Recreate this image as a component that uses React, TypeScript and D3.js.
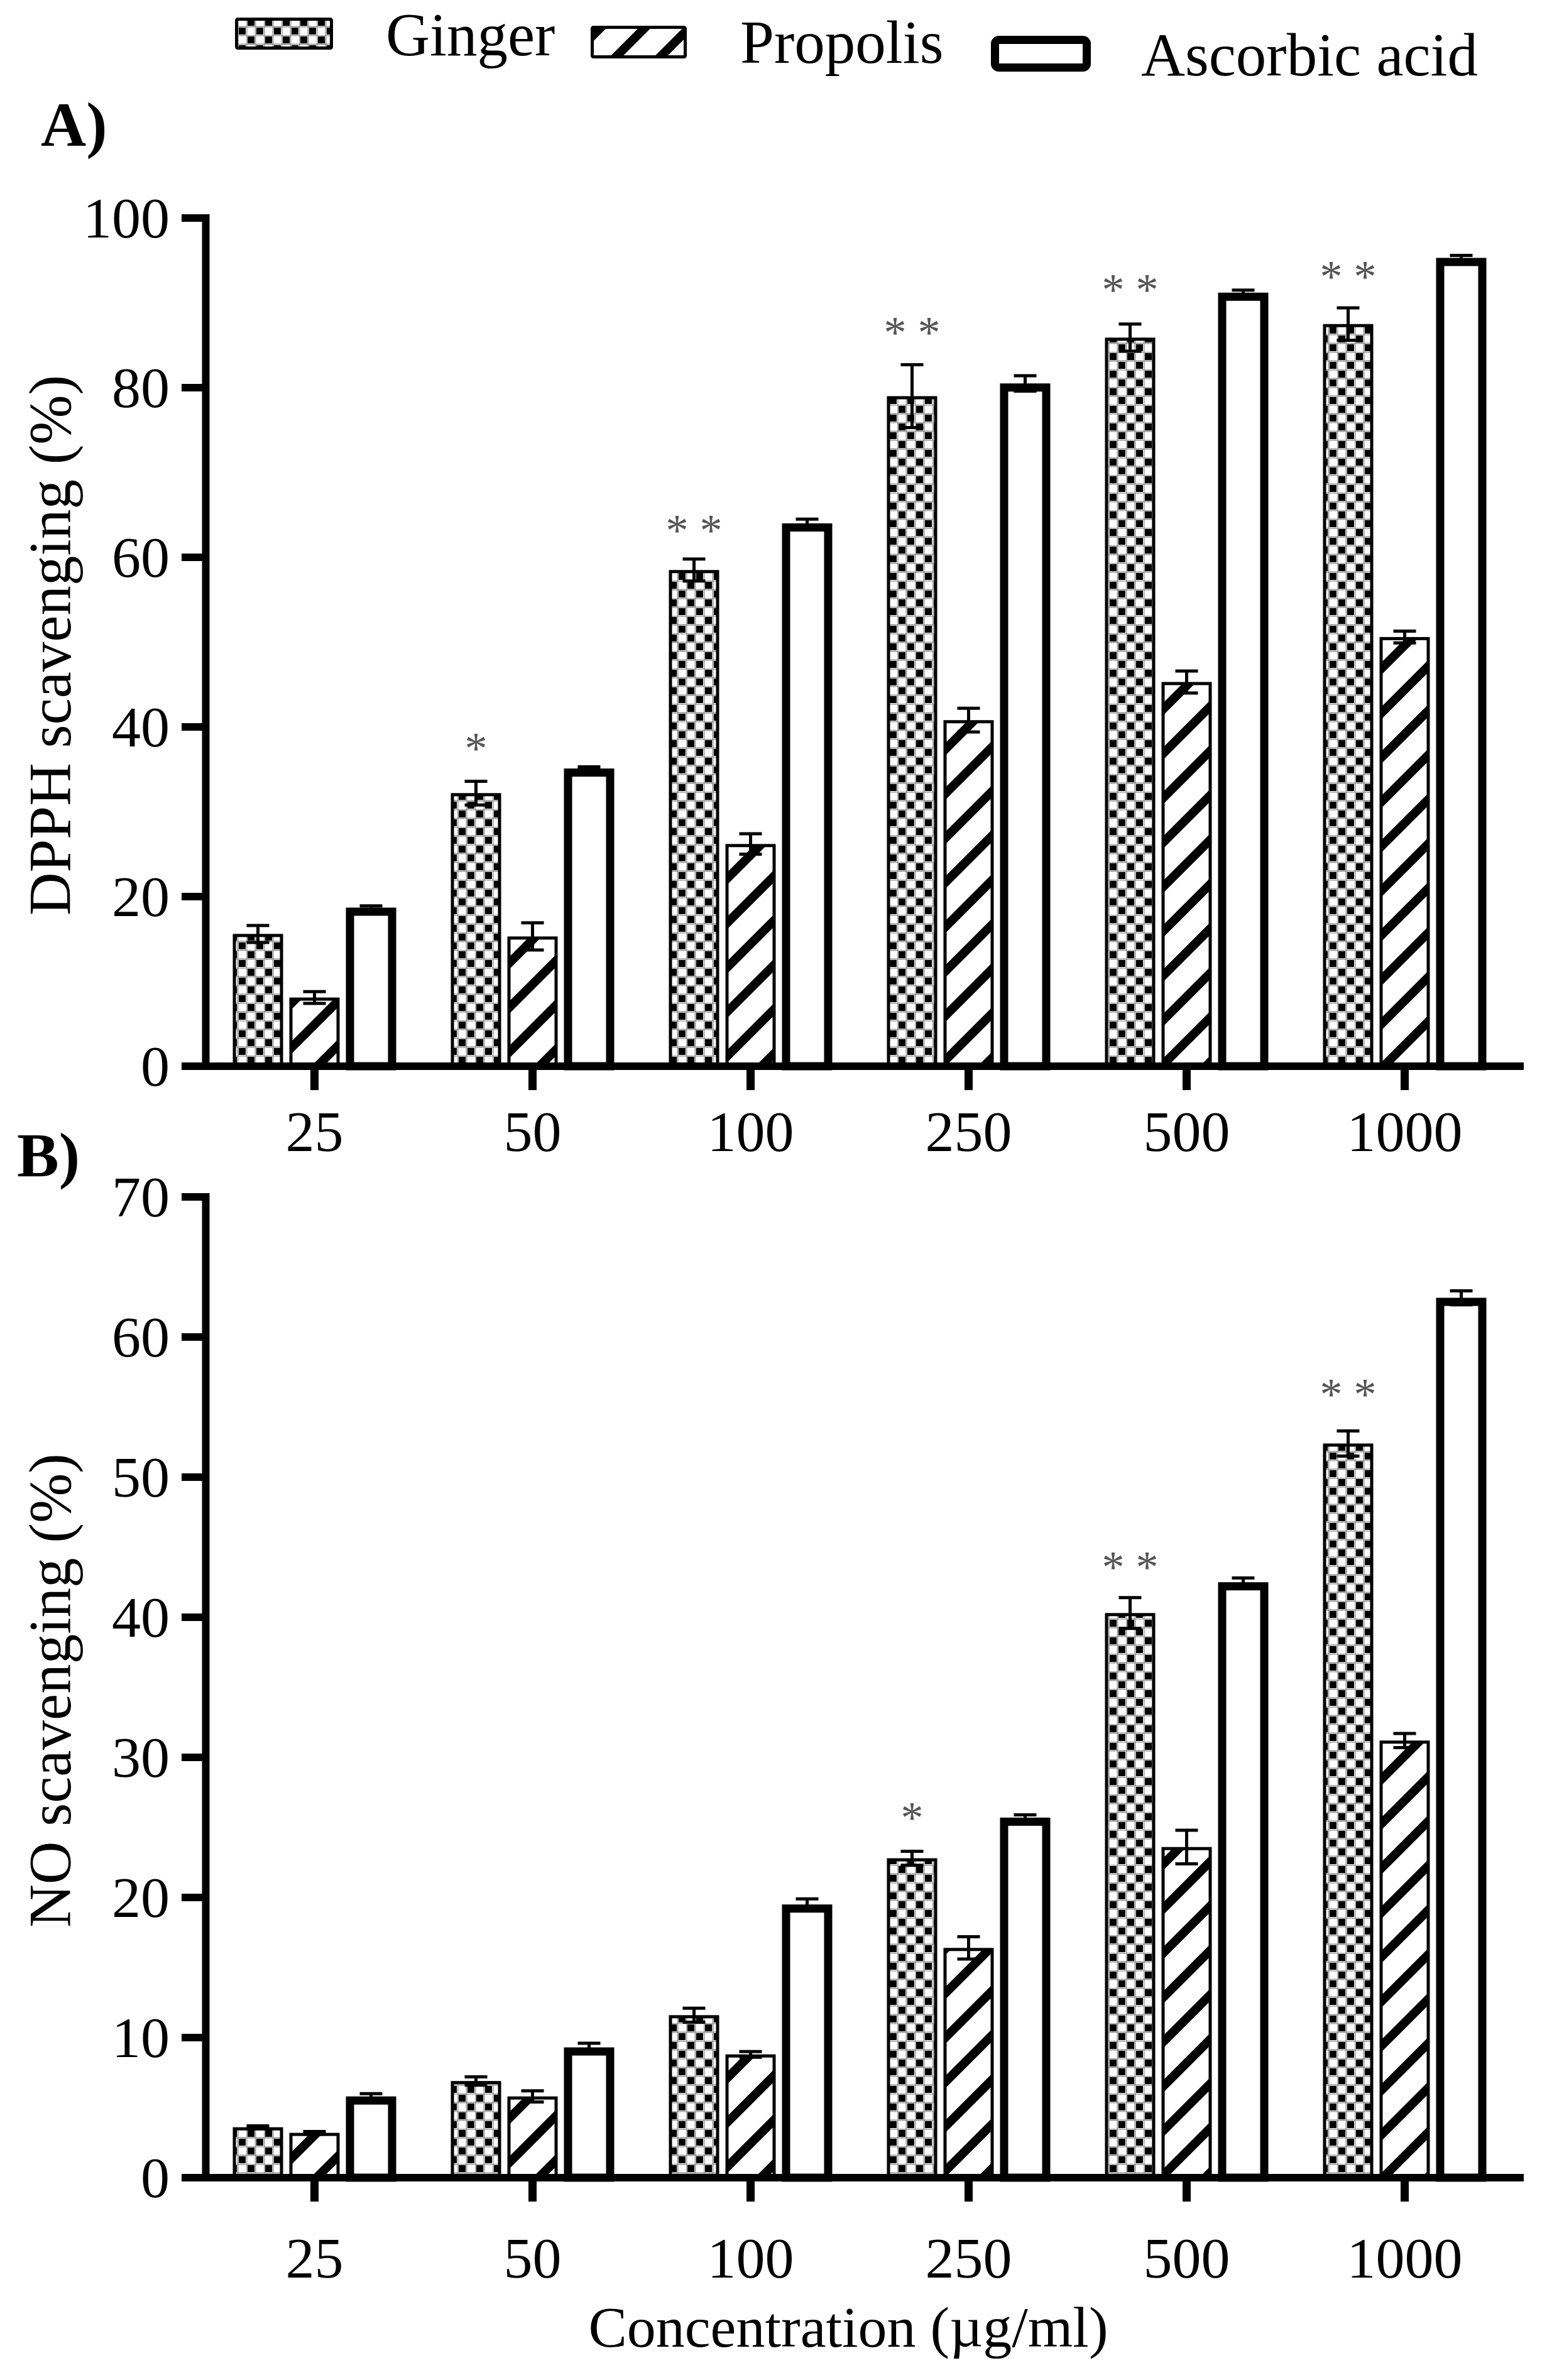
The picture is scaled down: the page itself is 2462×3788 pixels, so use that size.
import React from 'react';
import * as d3 from 'd3';

// concentrations on the x axis (µg/ml)
const concentrations = ['25', '50', '100', '250', '500', '1000'];
const seriesNames = ['Ginger', 'Propolis', 'Ascorbic acid'];

// A) DPPH scavenging (%)
const dpphGinger = [15.6, 32.2, 58.5, 79.0, 85.9, 87.5];
const dpphGingerErr = [1.0, 1.4, 1.3, 3.7, 1.6, 1.9];
const dpphPropolis = [8.1, 15.3, 26.2, 40.8, 45.3, 50.6];
const dpphPropolisErr = [0.7, 1.6, 1.2, 1.4, 1.3, 0.7];
const dpphAscorbic = [18.7, 35.1, 64.0, 80.5, 91.2, 95.3];
const dpphAscorbicErr = [0.2, 0.2, 0.5, 0.9, 0.3, 0.3];
const dpphStars = ['', '*', '* *', '* *', '* *', '* *'];
const dpphStarAt = [0, 38.3, 64.0, 87.3, 92.4, 93.9];

// B) NO scavenging (%)
const noGinger = [3.6, 6.9, 11.6, 22.8, 40.3, 52.4];
const noGingerErr = [0.1, 0.3, 0.5, 0.5, 1.1, 0.9];
const noPropolis = [3.2, 5.8, 8.8, 16.4, 23.6, 31.2];
const noPropolisErr = [0.1, 0.4, 0.2, 0.8, 1.2, 0.5];
const noAscorbic = [5.8, 9.3, 19.5, 25.7, 42.5, 62.8];
const noAscorbicErr = [0.2, 0.3, 0.4, 0.2, 0.3, 0.5];
const noStars = ['', '', '', '*', '* *', '* *'];
const noStarAt = [0, 0, 0, 26.2, 44.1, 56.4];

const FONT = '"Liberation Serif", "Times New Roman", serif';
const WIDTH = 2462;
const HEIGHT = 3788;

const SERIES_STYLE = [
  { fill: 'url(#checker)', sw: 5 },
  { fill: 'url(#hatch)', sw: 5 },
  { fill: '#ffffff', sw: 13 },
];

const x = d3.scaleBand<string>().domain(concentrations).range([327, 2409]).padding(0);
const sub = d3.scaleBand<string>().domain(seriesNames).range([-135, 135]).padding(0);
const BAR_W = 80;

type PanelProps = {
  series: { values: number[]; errs: number[] }[];
  stars: string[];
  starAt: number[];
  yMax: number;
  yRange: [number, number];
  tickCount: number;
  title: string;
  tickLabelY: number;
};

function Panel({ series, stars, starAt, yMax, yRange, tickCount, title, tickLabelY }: PanelProps) {
  const y = d3.scaleLinear().domain([0, yMax]).range(yRange);
  const y0 = y(0);
  const axisX = 327.5;
  const center = (c: string) => (x(c) as number) + x.bandwidth() / 2;
  const barX = (c: string, s: string) => center(c) + (sub(s) as number) + sub.bandwidth() / 2;

  return (
    <g>
      {/* bars */}
      {series.map((ser, si) =>
        concentrations.map((c, ci) => {
          const st = SERIES_STYLE[si];
          const cx = barX(c, seriesNames[si]);
          const top = y(ser.values[ci]);
          return (
            <rect
              key={`b-${si}-${ci}`}
              x={cx - BAR_W / 2 + st.sw / 2}
              y={top + st.sw / 2}
              width={BAR_W - st.sw}
              height={y0 - top - st.sw / 2}
              fill={st.fill}
              stroke="#000"
              strokeWidth={st.sw}
            />
          );
        })
      )}

      {/* error bars */}
      {series.map((ser, si) =>
        concentrations.map((c, ci) => {
          const cx = barX(c, seriesNames[si]);
          const hi = y(ser.values[ci] + ser.errs[ci]);
          const lo = y(ser.values[ci] - ser.errs[ci]);
          return (
            <g key={`e-${si}-${ci}`} stroke="#000" strokeWidth={5}>
              <line x1={cx} x2={cx} y1={hi} y2={lo} />
              <line x1={cx - 18} x2={cx + 18} y1={hi} y2={hi} />
              <line x1={cx - 18} x2={cx + 18} y1={lo} y2={lo} />
            </g>
          );
        })
      )}

      {/* significance marks */}
      {concentrations.map((c, ci) =>
        stars[ci] ? (
          <text
            key={`s-${ci}`}
            x={barX(c, seriesNames[0])}
            y={y(starAt[ci]) + 35}
            textAnchor="middle"
            fontFamily={FONT}
            fontSize={72}
            fill="#555"
          >
            {stars[ci]}
          </text>
        ) : null
      )}

      {/* y axis */}
      <line x1={axisX} x2={axisX} y1={y0} y2={y(yMax) - 6} stroke="#000" strokeWidth={12} />
      {y.ticks(tickCount).map((t) => (
        <g key={`yt-${t}`}>
          <line x1={289} x2={axisX} y1={y(t)} y2={y(t)} stroke="#000" strokeWidth={12} />
          <text
            x={270}
            y={y(t) + 31}
            textAnchor="end"
            fontFamily={FONT}
            fontSize={92}
            fill="#000"
          >
            {t}
          </text>
        </g>
      ))}

      {/* x axis */}
      <line x1={axisX - 6} x2={2425} y1={y0} y2={y0} stroke="#000" strokeWidth={12} />
      {concentrations.map((c) => (
        <g key={`xt-${c}`}>
          <line x1={center(c)} x2={center(c)} y1={y0} y2={y0 + 38} stroke="#000" strokeWidth={13} />
          <text
            x={center(c)}
            y={tickLabelY}
            textAnchor="middle"
            fontFamily={FONT}
            fontSize={92}
            fill="#000"
          >
            {c}
          </text>
        </g>
      ))}

      {/* y axis title */}
      <text
        transform={`translate(112,${(yRange[0] + yRange[1]) / 2 + 5}) rotate(-90)`}
        textAnchor="middle"
        fontFamily={FONT}
        fontSize={95}
        fill="#000"
      >
        {title}
      </text>
    </g>
  );
}

function Legend() {
  const items = [
    { sx: 374, sy: 28, sw: 156, sh: 51, tx: 614, ty: 88 },
    { sx: 940, sy: 41, sw: 153, sh: 52, tx: 1178, ty: 100 },
    { sx: 1577, sy: 57, sw: 159, sh: 57, tx: 1816, ty: 120 },
  ];
  return (
    <g>
      {items.map((it, i) => {
        const st = SERIES_STYLE[i];
        const lw = i === 2 ? 13 : 5;
        return (
          <g key={seriesNames[i]}>
            <rect
              x={it.sx + lw / 2}
              y={it.sy + lw / 2}
              width={it.sw - lw}
              height={it.sh - lw}
              rx={i === 2 ? 6 : 2}
              fill={st.fill}
              stroke="#000"
              strokeWidth={lw}
            />
            <text x={it.tx} y={it.ty} fontFamily={FONT} fontSize={97} fill="#000">
              {seriesNames[i]}
            </text>
          </g>
        );
      })}
    </g>
  );
}

export default function App() {
  return (
    <div style={{ position: 'absolute', left: 0, top: 0 }}>
      <svg width={WIDTH} height={HEIGHT} viewBox={`0 0 ${WIDTH} ${HEIGHT}`} style={{ display: 'block', background: '#fff' }}>
        <defs>
          <pattern id="checker" patternUnits="userSpaceOnUse" width={28} height={28}>
            <rect width={28} height={28} fill="#fff" />
            <rect x={2} y={2} width={11} height={11} fill="#000" />
            <rect x={16} y={16} width={11} height={11} fill="#000" />
            <path d="M0 0.5H28M0 14.5H28M0.5 0V28M14.5 0V28" stroke="#999" strokeWidth={2} />
          </pattern>
          <pattern id="hatch" patternUnits="userSpaceOnUse" width={50} height={50} patternTransform="rotate(45)">
            <rect width={50} height={50} fill="#fff" />
            <rect x={0} y={0} width={14} height={50} fill="#000" />
          </pattern>
        </defs>
        <rect width={WIDTH} height={HEIGHT} fill="#fff" />

        <Legend />

        <text x={65} y={232} fontFamily={FONT} fontSize={100} fontWeight="bold" fill="#000">A)</text>
        <text x={27} y={1872} fontFamily={FONT} fontSize={100} fontWeight="bold" fill="#000">B)</text>

        <Panel
          series={[
            { values: dpphGinger, errs: dpphGingerErr },
            { values: dpphPropolis, errs: dpphPropolisErr },
            { values: dpphAscorbic, errs: dpphAscorbicErr },
          ]}
          stars={dpphStars}
          starAt={dpphStarAt}
          yMax={100}
          yRange={[1697, 347]}
          tickCount={5}
          title="DPPH scavenging (%)"
          tickLabelY={1832}
        />

        <Panel
          series={[
            { values: noGinger, errs: noGingerErr },
            { values: noPropolis, errs: noPropolisErr },
            { values: noAscorbic, errs: noAscorbicErr },
          ]}
          stars={noStars}
          starAt={noStarAt}
          yMax={70}
          yRange={[3466, 1905]}
          tickCount={7}
          title="NO scavenging (%)"
          tickLabelY={3625}
        />

        <text x={1350} y={3735} textAnchor="middle" fontFamily={FONT} fontSize={92} fill="#000">
          Concentration (µg/ml)
        </text>
      </svg>
    </div>
  );
}
